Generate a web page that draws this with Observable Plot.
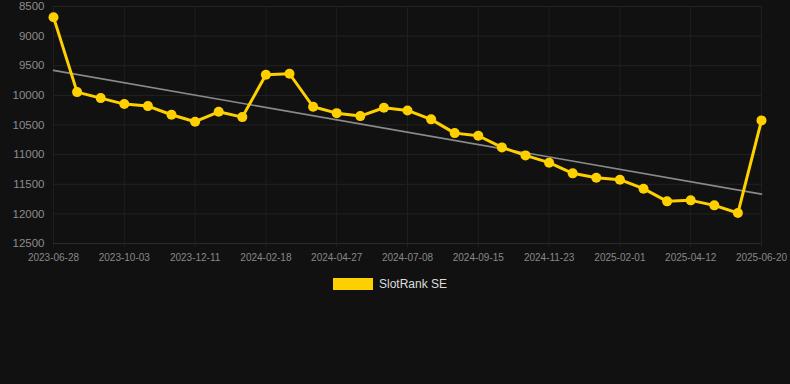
<!DOCTYPE html>
<html>
<head>
<meta charset="utf-8">
<script src="https://cdn.jsdelivr.net/npm/d3@7"></script>
<script src="https://cdn.jsdelivr.net/npm/@observablehq/plot@0.6"></script>
<style>
  html, body { margin: 0; padding: 0; background: #111111; }
  body { width: 790px; height: 384px; overflow: hidden; font-family: "Liberation Sans", Arial, sans-serif; }
  #legend { display: flex; align-items: center; justify-content: center; height: 28px; margin-right: 10px; }
  #legend .sw { width: 40px; height: 12px; background: #FFD000; margin-right: 6px; }
  #legend .lb { color: #dddddd; font-size: 12px; }
</style>
</head>
<body>
<div id="chart"></div>
<div id="legend"><div class="sw"></div><div class="lb">SlotRank SE</div></div>
<script>
const dates = [
  "2023-06-28","2023-08-18","2023-09-10","2023-10-03","2023-10-26","2023-11-18",
  "2023-12-11","2024-01-03","2024-01-26","2024-02-18","2024-03-12","2024-04-04",
  "2024-04-27","2024-05-21","2024-06-14","2024-07-08","2024-07-31","2024-08-23",
  "2024-09-15","2024-10-08","2024-10-31","2024-11-23","2024-12-16","2025-01-08",
  "2025-02-01","2025-02-24","2025-03-19","2025-04-12","2025-05-05","2025-05-28",
  "2025-06-20"
];
const ranks = [
  8680, 9945, 10046, 10147, 10181, 10327, 10445, 10277, 10367, 9652,
  9635, 10192, 10300, 10350, 10209, 10254, 10405, 10637, 10681, 10878,
  11013, 11136, 11316, 11389, 11423, 11575, 11789, 11772, 11856, 11986,
  10422
];
const yTicks = [8500, 9000, 9500, 10000, 10500, 11000, 11500, 12000, 12500];
const xTickIdx = [0, 3, 6, 9, 12, 15, 18, 21, 24, 27, 30];

const data = dates.map((d, i) => ({i, date: d, rank: ranks[i]}));

const chart = Plot.plot({
  width: 790,
  height: 270,
  marginTop: 6,
  marginBottom: 27,
  marginLeft: 53,
  marginRight: 29,
  style: {background: "#111111", color: "#888888", fontFamily: "Liberation Sans, Arial, sans-serif"},
  x: {domain: [0, 30], ticks: xTickIdx, tickFormat: i => dates[i], label: null},
  y: {domain: [8500, 12500], reverse: true, ticks: yTicks, label: null},
  marks: [
    Plot.gridY(yTicks, {stroke: "#232323", strokeOpacity: 1, strokeWidth: 1}),
    Plot.gridX(xTickIdx, {stroke: "#1f1f1f", strokeOpacity: 1, strokeWidth: 1, y1: 8500, y2: 12570}),
    Plot.ruleY([12500], {stroke: "#2a2a2a"}),
    Plot.axisY({ticks: yTicks, tickSize: 0, tickPadding: 9, fontSize: 11.5, fill: "#8c8c8c", tickFormat: d => String(d), label: null}),
    Plot.axisX({ticks: xTickIdx, tickSize: 0, tickPadding: 10, fontSize: 10, fill: "#888888", tickFormat: i => dates[i], label: null}),
    Plot.linearRegressionY(data, {x: "i", y: "rank", ci: 0, stroke: "#8a8a8a", strokeWidth: 1.6}),
    Plot.line(data, {x: "i", y: "rank", stroke: "#FFD000", strokeWidth: 3}),
    Plot.dot(data, {x: "i", y: "rank", fill: "#FFD000", r: 5})
  ]
});
document.getElementById("chart").appendChild(chart);
</script>
</body>
</html>
